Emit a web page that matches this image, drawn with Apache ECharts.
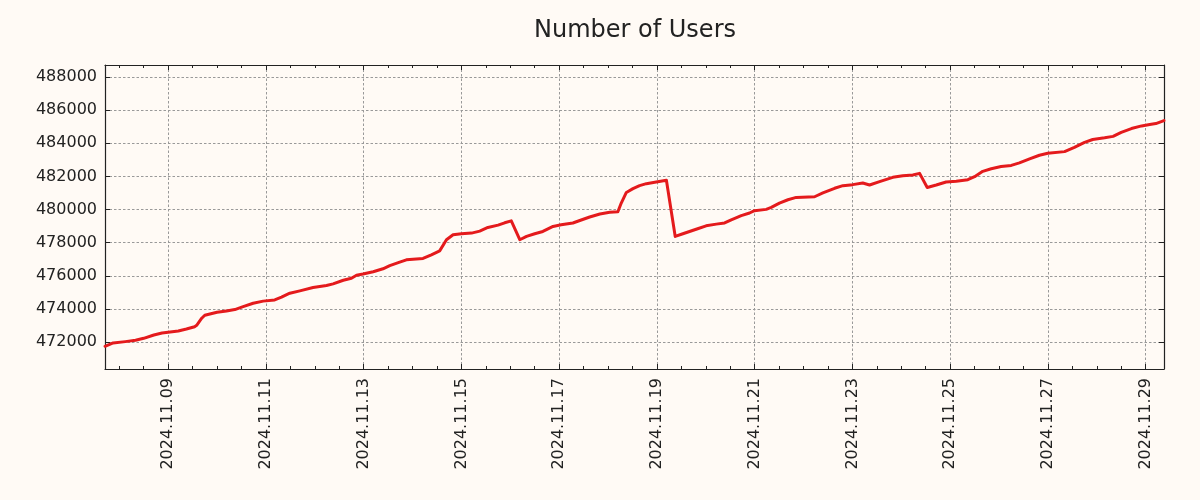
<!DOCTYPE html>
<html>
<head>
<meta charset="utf-8">
<script src="https://cdn.jsdelivr.net/npm/echarts@6/dist/echarts.min.js"></script>
<style>
html,body{margin:0;padding:0;background:#fffaf5;}
#chart{width:1200px;height:500px;}
</style>
</head>
<body>
<div id="chart"></div>
<script>
// ---- data ----
const times = [
'2024-11-07 17:00','2024-11-07 21:00','2024-11-08 03:00','2024-11-08 08:00','2024-11-08 12:00',
'2024-11-08 17:00','2024-11-08 21:00','2024-11-09 00:00','2024-11-09 05:00','2024-11-09 09:00',
'2024-11-09 13:00','2024-11-09 14:00','2024-11-09 16:30','2024-11-09 18:00','2024-11-10 00:00',
'2024-11-10 04:40','2024-11-10 08:45','2024-11-10 12:50','2024-11-10 17:45','2024-11-10 22:40',
'2024-11-11 04:20','2024-11-11 07:40','2024-11-11 11:45','2024-11-11 16:40','2024-11-11 23:10',
'2024-11-12 05:45','2024-11-12 09:00','2024-11-12 14:00','2024-11-12 18:00','2024-11-12 20:30',
'2024-11-12 23:40','2024-11-13 04:40','2024-11-13 09:30','2024-11-13 12:50','2024-11-13 17:00',
'2024-11-13 21:00','2024-11-14 00:15','2024-11-14 05:10','2024-11-14 09:15','2024-11-14 13:20',
'2024-11-14 16:40','2024-11-14 19:55','2024-11-15 00:00','2024-11-15 05:00','2024-11-15 09:00',
'2024-11-15 13:00','2024-11-15 18:00','2024-11-15 21:15','2024-11-16 00:30','2024-11-16 04:40',
'2024-11-16 08:00','2024-11-16 12:00','2024-11-16 16:00','2024-11-16 21:00','2024-11-17 01:00',
'2024-11-17 06:45','2024-11-17 10:50','2024-11-17 15:00','2024-11-17 20:00','2024-11-18 00:50',
'2024-11-18 04:50','2024-11-18 06:30','2024-11-18 09:00','2024-11-18 12:15','2024-11-18 15:30',
'2024-11-18 18:50','2024-11-18 23:40','2024-11-19 04:40','2024-11-19 09:00','2024-11-19 12:45',
'2024-11-19 20:00','2024-11-20 00:10','2024-11-20 05:10','2024-11-20 09:15','2024-11-20 12:30',
'2024-11-20 17:25','2024-11-20 21:30','2024-11-20 23:55','2024-11-21 05:40','2024-11-21 08:10',
'2024-11-21 12:10','2024-11-21 16:20','2024-11-21 20:25','2024-11-22 05:25','2024-11-22 09:30',
'2024-11-22 15:15','2024-11-22 19:20','2024-11-23 00:10','2024-11-23 05:05','2024-11-23 08:25',
'2024-11-23 13:20','2024-11-23 19:50','2024-11-24 00:45','2024-11-24 05:40','2024-11-24 09:00',
'2024-11-24 12:45','2024-11-24 17:10','2024-11-24 22:00','2024-11-25 03:00','2024-11-25 08:40',
'2024-11-25 12:00','2024-11-25 16:00','2024-11-25 20:10','2024-11-26 01:00','2024-11-26 06:00',
'2024-11-26 10:00','2024-11-26 15:00','2024-11-26 19:50','2024-11-26 23:55','2024-11-27 08:10',
'2024-11-27 13:00','2024-11-27 18:00','2024-11-27 22:00','2024-11-28 03:50','2024-11-28 08:00',
'2024-11-28 12:00','2024-11-28 17:00','2024-11-28 22:00','2024-11-29 02:00','2024-11-29 05:00',
'2024-11-29 09:00'
];
const users = [
471760,471960,472040,472120,472240,
472440,472560,472600,472680,472800,
472940,473020,473450,473630,473810,
473890,473970,474150,474350,474480,
474550,474720,474960,475100,475300,
475420,475520,475740,475860,476040,
476110,476250,476430,476620,476800,
476970,477010,477050,477270,477510,
478180,478480,478540,478580,478700,
478920,479060,479200,479320,478180,
478380,478540,478680,478980,479080,
479190,479370,479550,479730,479830,
479870,480390,481030,481260,481440,
481560,481660,481760,478380,478540,
478840,479020,479120,479190,479380,
479630,479790,479930,480010,480130,
480390,480590,480730,480770,481000,
481280,481440,481500,481600,481480,
481680,481940,482040,482080,482180,
481330,481480,481660,481700,481800,
481980,482300,482460,482590,482660,
482810,483050,483270,483390,483490,
483750,484050,484220,484320,484410,
484650,484880,485040,485120,485180,
485360
];
const yTickValues = [472000,474000,476000,478000,480000,482000,484000,486000,488000];
const xTickDates = ['2024-11-09','2024-11-11','2024-11-13','2024-11-15','2024-11-17','2024-11-19',
                    '2024-11-21','2024-11-23','2024-11-25','2024-11-27','2024-11-29'];
const xRange = ['2024-11-07 17:00','2024-11-29 09:00'];
const yRange = [470390, 488710];
const minorStepHours = 12;
const titleText = 'Number of Users';

// ---- helpers ----
function toMs(s){
  const [d,t] = s.split(' ');
  const [Y,M,D] = d.split('-').map(Number);
  let h=0,m=0;
  if(t){ [h,m] = t.split(':').map(Number); }
  return Date.UTC(Y,M-1,D,h,m);
}
function pad(n){return n<10?'0'+n:''+n;}
function fmtDate(v){
  const d = new Date(v);
  return d.getUTCFullYear()+'.'+pad(d.getUTCMonth()+1)+'.'+pad(d.getUTCDate());
}
const xMin = toMs(xRange[0]), xMax = toMs(xRange[1]);
const majorX = xTickDates.map(toMs);
const stepMs = minorStepHours*3600000;
const minorX = [];
for(let v=Math.ceil(xMin/stepMs)*stepMs; v<=xMax; v+=stepMs){ minorX.push(v); }
const seriesData = times.map((t,i)=>[toMs(t), users[i]]);

const FONT = 'DejaVu Sans';
const INK = '#222';
const frame = {show:true, onZero:false, lineStyle:{color:INK, width:1.2}};
const tickStyle = {color:INK, width:1};
const gridLine = {show:true, lineStyle:{color:'#999', width:1, type:[2.5,2]}};

const xBase = {type:'value', gridIndex:0, min:xMin, max:xMax, scale:true};
const yBase = {type:'value', gridIndex:0, min:yRange[0], max:yRange[1], scale:true};

const option = {
  backgroundColor:'#fffaf5',
  animation:false,
  title:{
    text:titleText, left:630, top:14, textAlign:'center',
    textStyle:{fontFamily:FONT, fontSize:24, fontWeight:'normal', color:INK}
  },
  grid:{left:105, right:36, top:65, bottom:131, containLabel:false},
  xAxis:[
    Object.assign({}, xBase, {position:'bottom', axisLine:frame,
      axisTick:{show:true, inside:true, length:5, customValues:majorX, lineStyle:tickStyle},
      axisLabel:{show:true, customValues:majorX, rotate:90, margin:9, formatter:fmtDate,
                 color:INK, fontFamily:FONT, fontSize:16},
      splitLine:gridLine}),
    Object.assign({}, xBase, {position:'bottom', axisLine:{show:false, onZero:false},
      axisTick:{show:true, inside:true, length:3, customValues:minorX, lineStyle:tickStyle},
      axisLabel:{show:false}, splitLine:{show:false}}),
    Object.assign({}, xBase, {position:'top', axisLine:frame,
      axisTick:{show:true, inside:true, length:5, customValues:majorX, lineStyle:tickStyle},
      axisLabel:{show:false}, splitLine:{show:false}}),
    Object.assign({}, xBase, {position:'top', axisLine:{show:false, onZero:false},
      axisTick:{show:true, inside:true, length:3, customValues:minorX, lineStyle:tickStyle},
      axisLabel:{show:false}, splitLine:{show:false}})
  ],
  yAxis:[
    Object.assign({}, yBase, {position:'left', axisLine:frame,
      axisTick:{show:true, inside:true, length:5, customValues:yTickValues, lineStyle:tickStyle},
      axisLabel:{show:true, customValues:yTickValues, margin:8, color:INK, fontFamily:FONT, fontSize:16,
                 formatter:v=>String(v)},
      splitLine:gridLine}),
    Object.assign({}, yBase, {position:'right', axisLine:frame,
      axisTick:{show:true, inside:true, length:5, customValues:yTickValues, lineStyle:tickStyle},
      axisLabel:{show:false}, splitLine:{show:false}})
  ],
  series:[{
    type:'line', xAxisIndex:0, yAxisIndex:0, data:seriesData,
    showSymbol:false, symbol:'none', clip:true,
    lineStyle:{color:'#e41a1c', width:3, join:'round', cap:'round'}
  }]
};
const chart = echarts.init(document.getElementById('chart'), null, {renderer:'canvas'});
chart.setOption(option);
</script>
</body>
</html>
